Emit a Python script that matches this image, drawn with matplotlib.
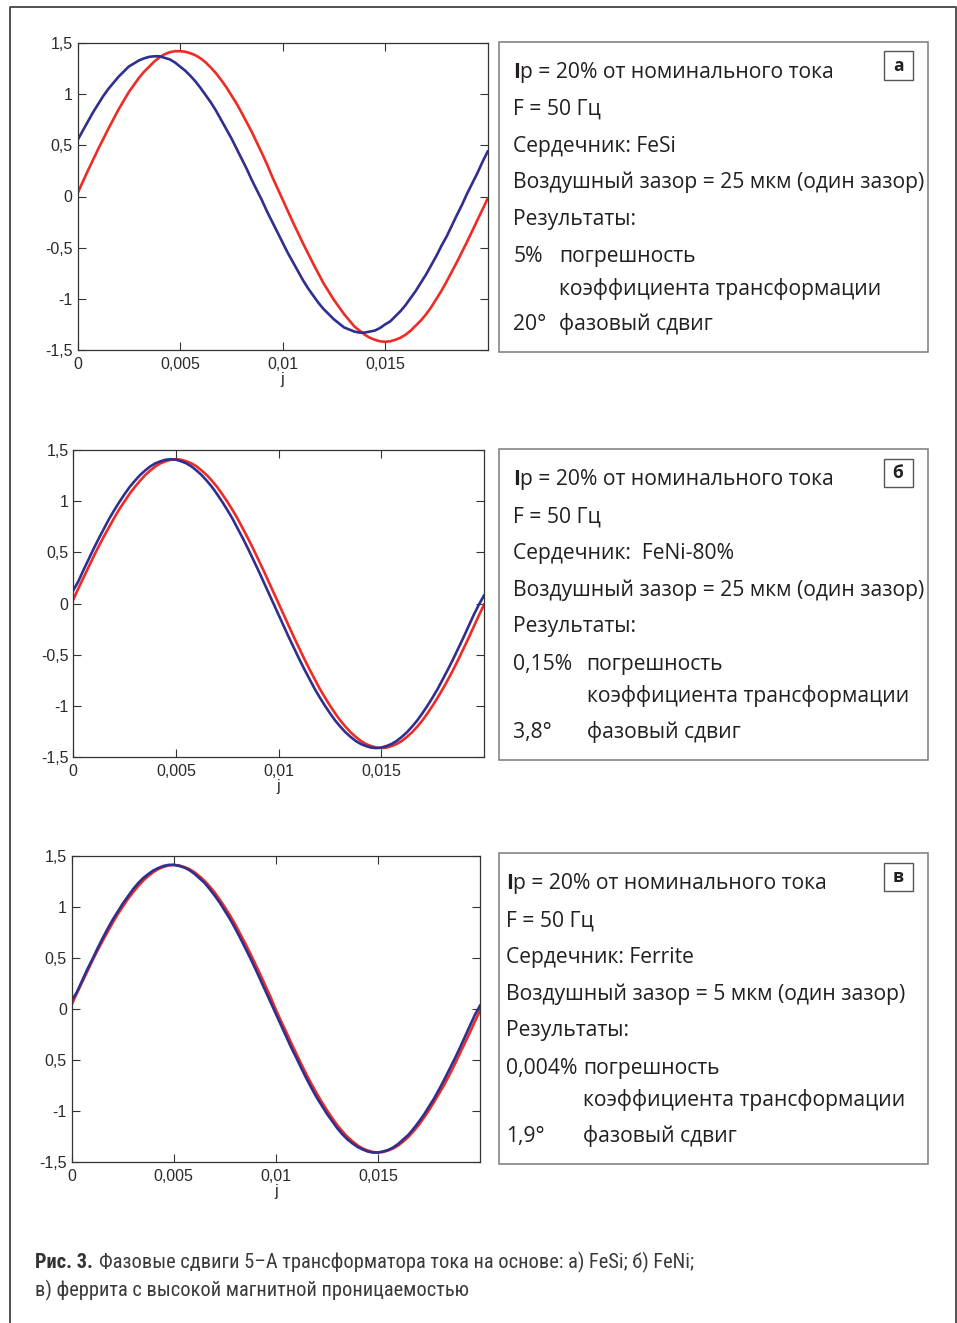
import matplotlib
matplotlib.use("Agg")
import matplotlib.pyplot as plt
from matplotlib import font_manager
from matplotlib.patches import Rectangle

# time axis, s (read every 0.25 ms over one 20 ms period)
t = [i * 0.00025 for i in range(81)]

# а) FeSi
red_a = [0.03, 0.14, 0.25, 0.355, 0.46, 0.56, 0.66, 0.755, 0.85, 0.935, 1.02, 1.09, 1.16, 1.22,
         1.27, 1.32, 1.36, 1.39, 1.41, 1.42, 1.42,
         1.415, 1.40, 1.38, 1.35, 1.31, 1.26, 1.205, 1.14, 1.07, 0.99, 0.91, 0.82, 0.725, 0.63,
         0.525, 0.42, 0.31, 0.19, 0.08, -0.03,
         -0.14, -0.25, -0.355, -0.46, -0.56, -0.66, -0.755, -0.85, -0.93, -1.01, -1.08, -1.15,
         -1.21, -1.27, -1.31, -1.35, -1.38, -1.40, -1.415, -1.42,
         -1.415, -1.40, -1.38, -1.35, -1.31, -1.26, -1.21, -1.15, -1.08, -1.00, -0.92, -0.83,
         -0.735, -0.64, -0.54, -0.44, -0.335, -0.23, -0.125, -0.02]
blue_a = [0.55, 0.64, 0.73, 0.82, 0.90, 0.98, 1.05, 1.11, 1.17, 1.22, 1.27, 1.30, 1.33, 1.35,
          1.365, 1.37, 1.37, 1.355, 1.34, 1.31, 1.27,
          1.23, 1.18, 1.125, 1.06, 0.99, 0.92, 0.84, 0.75, 0.66, 0.57, 0.47, 0.37, 0.27, 0.16,
          0.06, -0.04, -0.15, -0.25, -0.35, -0.45,
          -0.55, -0.64, -0.73, -0.82, -0.90, -0.97, -1.04, -1.10, -1.15, -1.20, -1.24, -1.28,
          -1.30, -1.32, -1.33, -1.33, -1.32, -1.31, -1.285, -1.25,
          -1.22, -1.17, -1.12, -1.06, -0.99, -0.92, -0.84, -0.76, -0.67, -0.58, -0.48, -0.39,
          -0.285, -0.18, -0.08, 0.03, 0.13, 0.23, 0.34, 0.44]

# б) FeNi-80%
red_b = [0.04, 0.15, 0.255, 0.36, 0.465, 0.565, 0.66, 0.75, 0.84, 0.925, 1.00, 1.075, 1.14, 1.20,
         1.255, 1.30, 1.34, 1.37, 1.39, 1.405, 1.41,
         1.405, 1.39, 1.37, 1.34, 1.30, 1.255, 1.20, 1.14, 1.07, 0.995, 0.915, 0.83, 0.735, 0.64,
         0.54, 0.435, 0.33, 0.22, 0.11, 0.00,
         -0.11, -0.22, -0.33, -0.435, -0.54, -0.64, -0.735, -0.83, -0.915, -0.995, -1.07, -1.14,
         -1.20, -1.255, -1.30, -1.34, -1.37, -1.39, -1.405, -1.41,
         -1.405, -1.39, -1.37, -1.34, -1.30, -1.255, -1.20, -1.14, -1.07, -0.995, -0.915, -0.83,
         -0.74, -0.645, -0.545, -0.44, -0.335, -0.225, -0.115, -0.01]
blue_b = [0.13, 0.22, 0.33, 0.435, 0.54, 0.64, 0.735, 0.83, 0.915, 0.995, 1.07, 1.14, 1.20, 1.255,
          1.30, 1.34, 1.37, 1.39, 1.405, 1.41, 1.405,
          1.39, 1.37, 1.34, 1.30, 1.255, 1.20, 1.14, 1.07, 0.995, 0.915, 0.83, 0.735, 0.64, 0.54,
          0.435, 0.33, 0.22, 0.11, 0.00, -0.11,
          -0.22, -0.33, -0.435, -0.54, -0.64, -0.735, -0.83, -0.915, -0.995, -1.07, -1.14, -1.20,
          -1.255, -1.30, -1.34, -1.37, -1.39, -1.405, -1.41, -1.405,
          -1.39, -1.37, -1.34, -1.30, -1.255, -1.20, -1.14, -1.07, -0.995, -0.915, -0.83, -0.735,
          -0.64, -0.54, -0.435, -0.33, -0.22, -0.11, -0.01, 0.08]

# в) Ferrite
red_c = [0.04, 0.15, 0.255, 0.36, 0.465, 0.565, 0.66, 0.75, 0.84, 0.925, 1.00, 1.075, 1.14, 1.20,
         1.255, 1.30, 1.34, 1.37, 1.39, 1.405, 1.41,
         1.405, 1.39, 1.37, 1.34, 1.30, 1.255, 1.20, 1.14, 1.07, 0.995, 0.915, 0.83, 0.735, 0.64,
         0.54, 0.435, 0.33, 0.22, 0.11, -0.01,
         -0.12, -0.225, -0.335, -0.44, -0.545, -0.645, -0.74, -0.83, -0.915, -0.995, -1.07, -1.14,
         -1.20, -1.255, -1.30, -1.34, -1.37, -1.39, -1.405, -1.41,
         -1.405, -1.39, -1.37, -1.34, -1.30, -1.255, -1.20, -1.14, -1.07, -0.995, -0.915, -0.83,
         -0.745, -0.65, -0.55, -0.445, -0.34, -0.235, -0.125, -0.02]
blue_c = [0.08, 0.16, 0.27, 0.38, 0.48, 0.585, 0.685, 0.78, 0.87, 0.95, 1.03, 1.10, 1.17, 1.23,
          1.28, 1.32, 1.355, 1.38, 1.40, 1.41, 1.41,
          1.40, 1.385, 1.36, 1.325, 1.28, 1.235, 1.175, 1.11, 1.04, 0.96, 0.88, 0.79, 0.695, 0.595,
          0.495, 0.39, 0.28, 0.17, 0.06, -0.05,
          -0.16, -0.27, -0.38, -0.48, -0.585, -0.685, -0.78, -0.87, -0.95, -1.03, -1.10, -1.17,
          -1.23, -1.28, -1.32, -1.355, -1.38, -1.40, -1.41, -1.41,
          -1.40, -1.385, -1.36, -1.325, -1.28, -1.235, -1.175, -1.11, -1.04, -0.96, -0.88, -0.79,
          -0.695, -0.595, -0.495, -0.39, -0.28, -0.17, -0.06, 0.03]

xticks = [0, 0.005, 0.01, 0.015]
xticklabels = ["0", "0,005", "0,01", "0,015"]
yticks = [1.5, 1, 0.5, 0, -0.5, -1, -1.5]
yticklabels = ["1,5", "1", "0,5", "0", "-0,5", "-1", "-1,5"]
yticklabels_c = ["1,5", "1", "0,5", "0", "0,5", "-1", "-1,5"]   # as printed in the original

info_a = [("Ip = 20% от номинального тока",), ("F = 50 Гц",), ("Сердечник: FeSi",),
          ("Воздушный зазор = 25 мкм (один зазор)",), ("Результаты:",),
          ("5%", "погрешность"), ("", "коэффициента трансформации"), ("20°", "фазовый сдвиг")]
info_b = [("Ip = 20% от номинального тока",), ("F = 50 Гц",), ("Сердечник:  FeNi-80%",),
          ("Воздушный зазор = 25 мкм (один зазор)",), ("Результаты:",),
          ("0,15%", "погрешность"), ("", "коэффициента трансформации"), ("3,8°", "фазовый сдвиг")]
info_c = [("Ip = 20% от номинального тока",), ("F = 50 Гц",), ("Сердечник: Ferrite",),
          ("Воздушный зазор = 5 мкм (один зазор)",), ("Результаты:",),
          ("0,004%", "погрешность"), ("", "коэффициента трансформации"), ("1,9°", "фазовый сдвиг")]

caption_bold = "Рис. 3."
caption_1 = "Фазовые сдвиги 5–А трансформатора тока на основе: а) FeSi; б) FeNi;"
caption_2 = "в) феррита с высокой магнитной проницаемостью"

RED = "#ee2b24"
BLUE = "#2e2f8f"
INK = "#231f20"
W, H = 957, 1323

installed = {f.name for f in font_manager.fontManager.ttflist}
box_font = "Open Sans" if "Open Sans" in installed else "DejaVu Sans"
cap_font = "DejaVu Sans"
for name in ["Roboto Condensed", "Liberation Sans Narrow", "Open Sans Condensed", "Roboto"]:
    if name in installed:
        cap_font = name
        break

fig = plt.figure(figsize=(W / 100, H / 100), dpi=100)
bg = fig.add_axes([0, 0, 1, 1], zorder=-1)
bg.set_xlim(0, W)
bg.set_ylim(H, 0)
bg.axis("off")
renderer = fig.canvas.get_renderer()

# outer frame
bg.plot([10, 10, 955.5, 955.5], [H, 7, 7, H], color="#444444", lw=1.3)


def text_width(artist):
    return artist.get_window_extent(renderer).width


def fit_size(text, family, width, weight="normal"):
    probe = bg.text(0, 0, text, fontsize=10, family=family, weight=weight)
    w = text_width(probe)
    probe.remove()
    return 10 * width / w


def plot_panel(box, red, blue, ylabels):
    l, r, top, bot = box
    ax = fig.add_axes([l / W, 1 - bot / H, (r - l) / W, (bot - top) / H])
    ax.plot(t, red, color=RED, lw=1.9)
    ax.plot(t, blue, color=BLUE, lw=1.9)
    ax.set_xlim(0, 0.02)
    ax.set_ylim(-1.5, 1.5)
    ax.set_xticks(xticks)
    ax.set_xticklabels(xticklabels)
    ax.set_yticks(yticks)
    ax.set_yticklabels(ylabels)
    ax.tick_params(direction="in", length=5.5, width=0.8, color="#333333",
                   top=True, right=True, labelsize=11.5, labelcolor="#2a2a2a")
    ax.tick_params(axis="x", pad=5)
    ax.tick_params(axis="y", pad=3.5)
    for lab in ax.get_xticklabels() + ax.get_yticklabels():
        lab.set_family("Liberation Sans")
    for s in ax.spines.values():
        s.set_color("#333333")
        s.set_linewidth(0.9)
    ax.set_xlabel("j", family="Liberation Sans", fontsize=11.5, color="#2a2a2a", labelpad=0)


def info_box(top, rows, x1, x2, letter, size):
    bg.add_patch(Rectangle((498.5, top), 429.5, 310.5, fill=False, ec="#7a7a7a", lw=1.1))
    bg.add_patch(Rectangle((883.5, top + 9.5), 29, 28.5, fill=False, ec="#555555", lw=1.0))
    bg.text(898, top + 24, letter, ha="center", va="center", family=box_font,
            weight="bold", fontsize=12.5, color=INK)
    offs = [36, 73, 110, 146.5, 183, 220.5, 253, 288.5]
    for dy, row in zip(offs, rows):
        y = top + dy
        if len(row) == 1:
            s = row[0]
            if s.startswith("I"):
                # the leading "I" is set in a heavier weight in the original
                tI = bg.text(x1, y, "I", family=box_font, fontsize=size, weight="bold",
                             va="baseline", color=INK)
                bg.text(x1 + text_width(tI), y, s[1:], family=box_font, fontsize=size,
                        va="baseline", color=INK)
            else:
                bg.text(x1, y, s, family=box_font, fontsize=size, va="baseline", color=INK)
        else:
            if row[0]:
                bg.text(x1, y, row[0], family=box_font, fontsize=size,
                        va="baseline", color=INK)
            bg.text(x2, y, row[1], family=box_font, fontsize=size, va="baseline", color=INK)


plot_panel((77.5, 487.7, 43, 350), red_a, blue_a, yticklabels)
plot_panel((73.3, 484, 450, 757.3), red_b, blue_b, yticklabels)
plot_panel((71.7, 480, 855.7, 1161.7), red_c, blue_c, yticklabels_c)

size_box = fit_size(info_a[3][0], box_font, 412)
info_box(41.7, info_a, 513.3, 559.3, "а", size_box)
info_box(449.3, info_b, 513.3, 586.7, "б", size_box)
info_box(853.3, info_c, 506, 583.3, "в", size_box)

# caption
cap_size = fit_size(caption_2, cap_font, 433)
tb = bg.text(35, 1268, caption_bold, family=cap_font, weight="bold", fontsize=cap_size,
             va="baseline", color="#333333")
wb = text_width(tb)
bg.text(35 + wb + 6, 1268, caption_1, family=cap_font, fontsize=cap_size,
        va="baseline", color="#3a3a3a")
bg.text(35, 1296, caption_2, family=cap_font, fontsize=cap_size,
        va="baseline", color="#3a3a3a")

fig.savefig("out.png", dpi=100)
